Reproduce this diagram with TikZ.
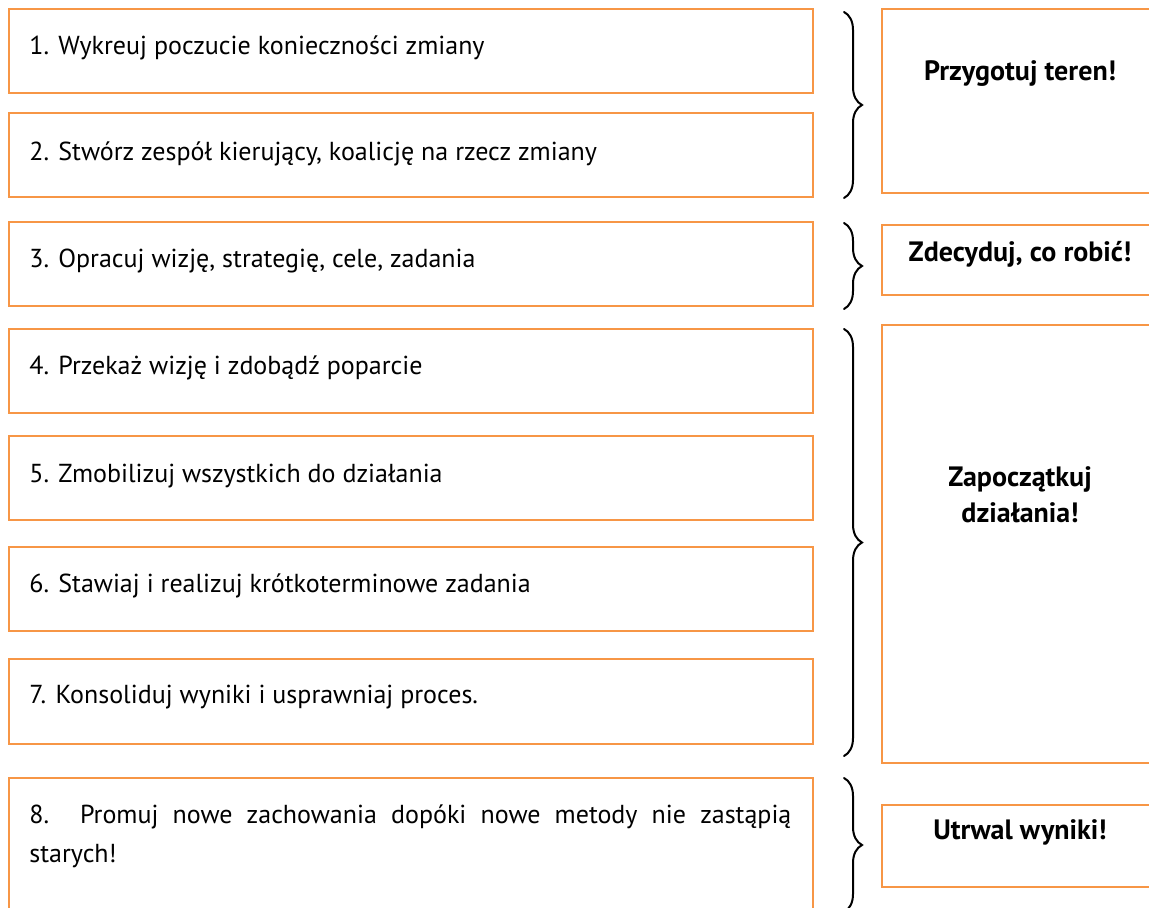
\documentclass[tikz,border=0pt]{standalone}
\usepackage{fontspec}
\setmainfont{PT Sans}
\usepackage{tikz}
\usetikzlibrary{positioning, calc, decorations.pathreplacing}
\definecolor{krok}{HTML}{F79646}

\begin{document}
\begin{tikzpicture}[x=0.5pt, y=-0.5pt,
    stepbox/.style={rectangle, draw=krok, line width=1pt, minimum width=402pt, minimum height=#1, inner sep=0pt},
    stepbox/.default={42pt},
    phasebox/.style={rectangle, draw=krok, line width=1pt, minimum width=138pt, minimum height=#1, inner sep=0pt},
    steptext/.style={anchor=base west, inner sep=0pt, font=\fontsize{13}{19.5}\selectfont},
    phasetext/.style={anchor=base, inner sep=0pt, align=center, font=\fontsize{14}{18}\selectfont\bfseries},
    klamra/.style={decorate, decoration={brace, amplitude=9pt}, line width=1pt, line cap=round}
]
\clip (0,0) rectangle (1149,908);

% === KROKI ===
\node[stepbox] (k1) at (411, 51) {};
\node[stepbox] (k2) at (411, 155) {};
\node[stepbox] (k3) at (411, 264) {};
\node[stepbox] (k4) at (411, 371) {};
\node[stepbox] (k5) at (411, 478) {};
\node[stepbox] (k6) at (411, 589) {};
\node[stepbox=42.5pt] (k7) at (411, 701.5) {};
\node[stepbox=76pt] (k8) at (411, 854) {};

\node[steptext] (t1) at ([xshift=10.5pt, yshift=-23.5pt] k1.north west) {1. Wykreuj poczucie konieczności zmiany};
\node[steptext] (t2) at ([xshift=10.5pt, yshift=-24.5pt] k2.north west) {2. Stwórz zespół kierujący, koalicję na rzecz zmiany};
\node[steptext] (t3) at ([xshift=10.5pt, yshift=-23.5pt] k3.north west) {3. Opracuj wizję, strategię, cele, zadania};
\node[steptext] (t4) at ([xshift=10.5pt, yshift=-23.5pt] k4.north west) {4. Przekaż wizję i zdobądź poparcie};
\node[steptext] (t5) at ([xshift=10.5pt, yshift=-23.5pt] k5.north west) {5. Zmobilizuj wszystkich do działania};
\node[steptext] (t6) at ([xshift=10.5pt, yshift=-23pt] k6.north west) {6. Stawiaj i realizuj krótkoterminowe zadania};
\node[steptext] (t7) at ([xshift=10.5pt, yshift=-22.5pt] k7.north west) {7. Konsoliduj wyniki i usprawniaj proces.};
\node[steptext, anchor=north west, text width=381pt, align=justify] (t8) at ([xshift=10.5pt, yshift=-13.5pt] k8.north west) {8. Promuj nowe zachowania dopóki nowe metody nie zastąpią starych!};

% === ETAPY ===
\node[phasebox=92pt] (e1) at (1020, 101) {};
\node[phasebox=35pt] (e2) at (1020, 260) {};
\node[phasebox=219pt] (e3) at (1020, 544) {};
\node[phasebox=41pt] (e4) at (1020, 846) {};

\node[phasetext] (p1) at ([yshift=-36.5pt] e1.north) {Przygotuj teren!};
\node[phasetext] (p2) at ([yshift=-19pt] e2.north) {Zdecyduj, co robić!};
\node[phasetext, anchor=center] (p3) at ([yshift=-85.5pt] e3.north) {Zapoczątkuj\\działania!};
\node[phasetext] (p4) at ([yshift=-17.5pt] e4.north) {Utrwal wyniki!};

% === KLAMRY ===
\draw[klamra] ([xshift=15pt, yshift=-2pt] k1.north east) -- ([xshift=15pt] k2.south east);
\draw[klamra] ([xshift=15pt, yshift=-1pt] k3.north east) -- ([xshift=15pt, yshift=-1pt] k3.south east);
\draw[klamra] ([xshift=15pt, yshift=-0.5pt] k4.north east) -- ([xshift=15pt, yshift=-5.5pt] k7.south east);
\draw[klamra] ([xshift=15pt, yshift=-0.5pt] k8.north east) -- ([xshift=15pt, yshift=-67.5pt] k8.north east);

\end{tikzpicture}
\end{document}
